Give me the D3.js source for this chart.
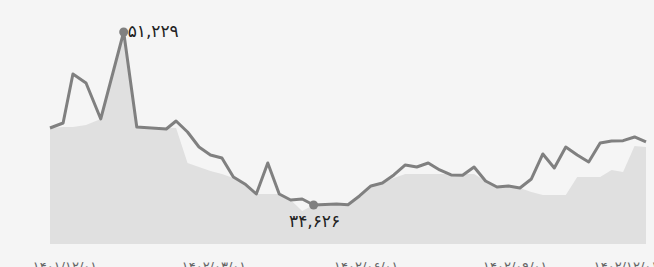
<!DOCTYPE html>
<html><head><meta charset="utf-8">
<script src="https://cdn.jsdelivr.net/npm/d3@7"></script>
<style>html,body{margin:0;padding:0;background:#f5f5f5;overflow:hidden}</style>
</head><body><svg id="c" width="654" height="267"></svg>
<script>
// ---- data ----
const dates = ["2023-02-09","2023-02-17","2023-02-23","2023-03-03","2023-03-12","2023-03-26","2023-04-03","2023-04-12","2023-04-21",
  "2023-04-27","2023-05-04","2023-05-11","2023-05-18","2023-05-25","2023-06-01","2023-06-08","2023-06-15","2023-06-22","2023-06-29",
  "2023-07-06","2023-07-13","2023-07-20","2023-07-27","2023-08-03","2023-08-10","2023-08-17","2023-08-24","2023-08-31","2023-09-07",
  "2023-09-14","2023-09-21","2023-09-28","2023-10-05","2023-10-12","2023-10-19","2023-10-26","2023-11-02","2023-11-09","2023-11-16",
  "2023-11-23","2023-11-30","2023-12-07","2023-12-14","2023-12-21","2023-12-28","2024-01-04","2024-01-11","2024-01-18","2024-01-25",
  "2024-02-01","2024-02-08"];
const lineValues = [42016,42496,47198,46334,42880,51229,42112,42016,41920,
  42688,41632,40193,39425,39137,37313,36641,35681,38656,35681,
  35105,35201,34626,34674,34722,34650,35489,36451,36739,37505,
  38465,38273,38656,37985,37505,37480,38273,36929,36353,36449,
  36257,37121,39521,38177,40193,39425,38753,40577,40769,40800,
  41152,40673];
const areaValues = [42016,42112,42112,42304,42880,51229,42112,42112,42064,
  42016,38657,38273,37889,37601,37217,36545,35681,35681,35681,
  35105,34050,34626,34674,34722,34650,35489,36353,36739,37217,
  37601,37601,37601,37601,37601,37601,37601,36929,36353,36449,
  36257,35873,35585,35585,35585,37313,37313,37313,37985,37793,
  40288,40193];
const tickDates = ["2023-02-20","2023-05-22","2023-08-23","2023-11-22","2024-02-20"];
const tickLabels = ["۱۴۰۱/۱۲/۰۱","۱۴۰۲/۰۳/۰۱","۱۴۰۲/۰۶/۰۱","۱۴۰۲/۰۹/۰۱","۱۴۰۲/۱۲/۰۱"];
const yDomain = [30880, 51229];

// ---- drawing ----
const W = 654, H = 267;
const parse = d3.utcParse("%Y-%m-%d");
const data = dates.map((d, i) => ({date: parse(d), v: lineValues[i], a: areaValues[i]}));
const svg = d3.select("#c");
svg.append("rect").attr("width", W).attr("height", H).attr("fill", "#f5f5f5");

const x = d3.scaleUtc().domain(d3.extent(data, d => d.date)).range([50, 646]);
const y = d3.scaleLinear().domain(yDomain).range([244, 32]);

const toFa = s => s.replace(/\d/g, c => "۰۱۲۳۴۵۶۷۸۹"[+c]);
const fmt = v => toFa(d3.format(",")(v));

svg.append("path").datum(data)
  .attr("fill", "#e0e0e0")
  .attr("d", d3.area().x(d => x(d.date)).y0(y(yDomain[0])).y1(d => y(d.a)));

svg.append("path").datum(data)
  .attr("fill", "none").attr("stroke", "#808080").attr("stroke-width", 3)
  .attr("stroke-linejoin", "round")
  .attr("d", d3.line().x(d => x(d.date)).y(d => y(d.v)));

const maxD = data[d3.maxIndex(data, d => d.v)];
const minD = data[d3.minIndex(data, d => d.v)];
[maxD, minD].forEach(d => svg.append("circle")
  .attr("cx", x(d.date)).attr("cy", y(d.v)).attr("r", 4.5).attr("fill", "#808080"));

svg.append("text").attr("x", x(maxD.date) + 4).attr("y", y(maxD.v) + 5)
  .attr("font-family", "DejaVu Sans").attr("font-size", 17).attr("fill", "#222")
  .text(fmt(maxD.v));
svg.append("text").attr("x", x(minD.date) + 1).attr("y", y(minD.v) + 22)
  .attr("text-anchor", "middle")
  .attr("font-family", "DejaVu Sans").attr("font-size", 17).attr("fill", "#222")
  .text(fmt(minD.v));

// x axis labels
const xa = svg.append("g").attr("transform", "translate(0,271)");
const ticks = tickDates.map((d, i) => ({date: parse(d), label: tickLabels[i]}));
xa.selectAll("text").data(ticks).join("text")
  .attr("x", d => Math.min(x(d.date) - 3, W - 28))
  .attr("text-anchor", "middle")
  .attr("font-family", "DejaVu Sans").attr("font-size", 13).attr("fill", "#666")
  .text(d => d.label);
</script></body></html>
